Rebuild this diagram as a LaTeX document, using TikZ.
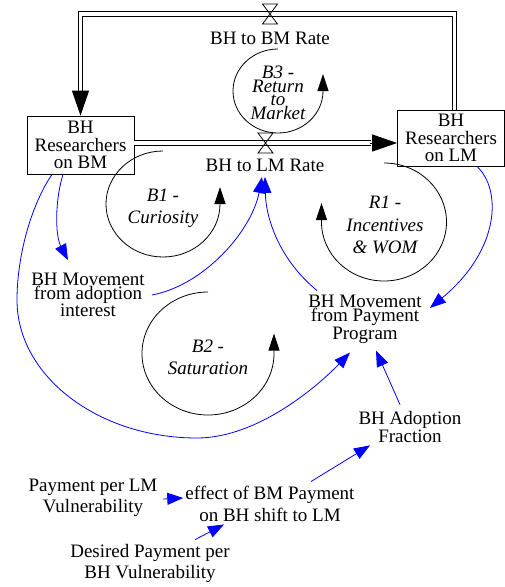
\documentclass[tikz,border=0pt]{standalone}
\usepackage{fontspec}
\setmainfont{Liberation Serif}
\usetikzlibrary{arrows.meta}
\begin{document}
\begin{tikzpicture}
[x=1pt,y=-1pt,
 every node/.style={font=\fontsize{19}{21}\selectfont},
 stockdecorate/.style={shape=rectangle,draw,fill=white,align=center,inner sep=0pt,
   line width=0.8pt,font=\fontsize{19}{17.5}\selectfont},
 vardecorate/.style={align=center,inner sep=2pt},
 loopdecorate/.style={align=center,inner sep=1pt},
 pipedecorate/.style={double=white,double distance=3.5pt,line width=0.9pt},
 flowtip/.style={-{Triangle[length=25pt,width=17pt]},line width=0.9pt},
 linkdecorate/.style={blue,line width=0.8pt,-{Triangle[length=16pt,width=12pt]}},
 loopline/.style={line width=0.8pt,-{Triangle[length=17pt,width=11pt]}}]
\useasboundingbox (0,0) rectangle (505,587);
%% stocks
\node (BMstock) at (80.5,145) [stockdecorate,minimum width=107pt,minimum height=58pt]
  {BH\\Researchers\\on BM};
\node (LMstock) at (451,138) [stockdecorate,minimum width=107pt,minimum height=56pt]
  {BH\\Researchers\\on LM};
%% pipes and valves
\coordinate (retTop) at (454.5,14);
\coordinate (fwdPipe) at (0,143);
\coordinate (fwdEnd) at (LMstock.west |- fwdPipe);
\draw[pipedecorate] (LMstock.north -| retTop) -- (retTop) -- (retTop -| BMstock.north)
  -- ([yshift=24pt]BMstock.north);
\draw[flowtip] ([yshift=25pt]BMstock.north) -- (BMstock.north);
\draw[pipedecorate] (BMstock.east |- fwdPipe) -- ([xshift=-26pt]fwdEnd);
\draw[flowtip] ([xshift=-27pt]fwdEnd) -- (fwdEnd);
\foreach \valvename/\x/\y in {BMvalve/270/14, LMvalve/265.5/143}
{
  \draw[line width=0.8pt] (\x-7.5,\y-10) -- (\x+7.5,\y-10) -- (\x-7.5,\y+10)
    -- (\x+7.5,\y+10) -- cycle;
}
\node (BMrate) at (270,38) [vardecorate] {BH to BM Rate};
\node (LMrate) at (265,165) [vardecorate] {BH to LM Rate};
%% auxiliaries
\foreach \nodename/\x/\y/\gap/\nodetext in {
  adoptMove/88/295/14/{BH Movement\\from adoption\\interest},
  payMove/365/319/13.5/{BH Movement\\from Payment\\Program},
  adoptFrac/410/427/18/{BH Adoption\\Fraction},
  effectPay/270/504/22/{effect of BM Payment\\on BH shift to LM},
  payLM/93/498/21/{Payment per LM\\Vulnerability},
  desiredPay/150/563/21/{Desired Payment per\\BH Vulnerability}}
{
  \node (\nodename) at (\x,\y) [vardecorate,font=\fontsize{19}{\gap}\selectfont] {\nodetext};
}
%% loop names and loop arrows
\foreach \nodename/\x/\y/\gap/\nodetext in {
  B3loop/278/93/13.5/{B3 -\\Return\\to\\Market},
  B1loop/163/208/22/{B1 -\\Curiosity},
  R1loop/385/225/22.5/{R1 -\\Incentives\\\& WOM},
  B2loop/208/357/22/{B2 -\\Saturation}}
{
  \node (\nodename) at (\x,\y) [loopdecorate,font=\fontsize{19}{\gap}\selectfont\itshape] {\nodetext};
}
\foreach \cx/\cy/\rx/\ry/\sa/\ea/\hl in {278/91/45/42/-90/-360/17, 163/204/57/53/-90/-360/17,
  208/353.5/66/61.5/-90/-360/20, 384/222/62.5/59/-90/180/19}
{
  \draw[loopline] (\cx,\cy-\ry) arc[start angle=\sa,end angle=\ea,x radius=\rx,y radius=\ry]
    -- ++(0,-\hl);
}
%% information links
\draw[linkdecorate] ([xshift=-17.5pt]BMstock.south) .. controls (55,200) and (55,235)
  .. ([xshift=-20pt,yshift=10.5pt]adoptMove.north);
\draw[linkdecorate] ([xshift=5pt]adoptMove.east) .. controls (205,285) and (252,230)
  .. ([xshift=-3pt,yshift=-3.5pt]LMrate.south);
\draw[linkdecorate] ([xshift=-48pt,yshift=2pt]payMove.north) .. controls (282,262) and (266,222)
  .. ([yshift=-3.5pt]LMrate.south);
\draw[linkdecorate] ([xshift=-28.5pt]BMstock.south) .. controls (30,207) and (17,258) .. (17,300)
  .. controls (17,376) and (98,438) .. (197,438)
  .. controls (257,438) and (317,387) .. ([xshift=-15pt,yshift=-7pt]payMove.south);
\draw[linkdecorate] ([xshift=26pt]LMstock.south) .. controls (502,190) and (500,250)
  .. ([xshift=6pt,yshift=11pt]payMove.east);
\draw[linkdecorate] ([xshift=-10pt,yshift=4.5pt]adoptFrac.north)
  -- ([xshift=11pt,yshift=-5pt]payMove.south);
\draw[linkdecorate] ([xshift=41pt,yshift=2.5pt]effectPay.north)
  -- ([xshift=-40pt,yshift=-0.5pt]adoptFrac.south);
\draw[linkdecorate] ([xshift=3.5pt,yshift=-1pt]payLM.east) -- ([yshift=6pt]effectPay.west);
\draw[linkdecorate] ([xshift=45pt,yshift=2pt]desiredPay.north)
  -- ([xshift=-46pt,yshift=-0.5pt]effectPay.south);
\end{tikzpicture}
\end{document}
